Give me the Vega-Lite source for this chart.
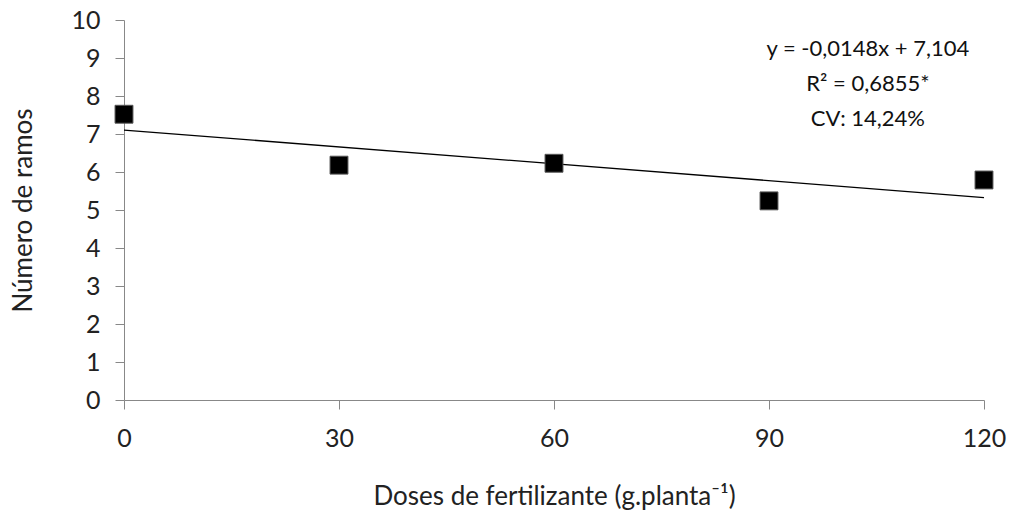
{
  "$schema": "https://vega.github.io/schema/vega-lite/v6.json",
  "width": 860,
  "height": 380,
  "autosize": "none",
  "padding": {"left": 124, "top": 20, "right": 30, "bottom": 123},
  "background": "white",
  "config": {"view": {"stroke": null}, "font": "Lato"},
  "datasets": {
    "pts": [
      {"dose": 0, "ramos": 7.52},
      {"dose": 30, "ramos": 6.18},
      {"dose": 60, "ramos": 6.23},
      {"dose": 90, "ramos": 5.24},
      {"dose": 120, "ramos": 5.79}
    ],
    "fit": [
      {"dose": 0, "ramos": 7.104},
      {"dose": 120, "ramos": 5.328}
    ],
    "notes": [
      {"dose": 103.8, "ramos": 9.24, "label": "y = -0,0148x + 7,104"},
      {"dose": 103.8, "ramos": 8.32, "label": "R² = 0,6855*"},
      {"dose": 103.8, "ramos": 7.4, "label": "CV: 14,24%"}
    ]
  },
  "encoding": {
    "x": {
      "field": "dose", "type": "quantitative",
      "scale": {"domain": [0, 120], "nice": false, "zero": false},
      "axis": {
        "values": [0, 30, 60, 90, 120],
        "title": "Doses de fertilizante (g.planta⁻¹)",
        "titleFont": "Lato", "titleFontSize": 26, "titleFontWeight": "normal", "titleColor": "#222",
        "titlePadding": 32,
        "labelFont": "Lato", "labelFontSize": 25, "labelColor": "#222", "labelPadding": 17,
        "labelFlush": false, "labelOverlap": false,
        "domainColor": "#888", "tickColor": "#888", "tickSize": 9, "grid": false
      }
    },
    "y": {
      "field": "ramos", "type": "quantitative",
      "scale": {"domain": [0, 10], "nice": false},
      "axis": {
        "tickCount": 10,
        "tickMinStep": 1,
        "labelSeparation": 0,
        "title": "Número de ramos",
        "titleFont": "Lato", "titleFontSize": 26, "titleFontWeight": "normal", "titleColor": "#222",
        "titlePadding": 34,
        "labelFont": "Lato", "labelFontSize": 25, "labelColor": "#222", "labelPadding": 15,
        "labelFlush": false, "labelOverlap": false,
        "domainColor": "#888", "tickColor": "#888", "tickSize": 9, "grid": false
      }
    }
  },
  "layer": [
    {
      "data": {"name": "fit"},
      "mark": {"type": "line", "color": "black", "strokeWidth": 1.3}
    },
    {
      "data": {"name": "pts"},
      "mark": {"type": "square", "filled": true, "color": "black", "size": 320, "stroke": "#555", "strokeWidth": 1, "opacity": 1}
    },
    {
      "data": {"name": "notes"},
      "mark": {"type": "text", "font": "Lato", "fontSize": 22, "color": "#111", "align": "center", "baseline": "middle"},
      "encoding": {
        "text": {"field": "label"}
      }
    }
  ]
}
